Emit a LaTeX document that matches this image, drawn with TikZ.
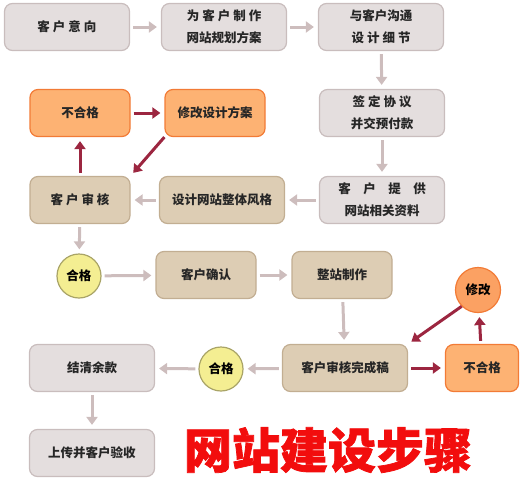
\documentclass[tikz,border=0pt]{standalone}
\usepackage{fontspec}
\setmainfont{Noto Sans CJK SC}
\newfontfamily\titlefont[BoldFeatures={FakeBold=1.5}]{Noto Sans CJK SC}
\usepackage{xcolor}
\usepackage{tikz}
\usetikzlibrary{arrows.meta, positioning}
\tikzset{>={Triangle[length=8pt,width=11pt]}}
\newcommand{\gap}{\hspace{3pt}}

\definecolor{greyfill}{HTML}{E4DEDE}
\definecolor{greyline}{HTML}{C9BDBD}
\definecolor{tanfill}{HTML}{DDCDB4}
\definecolor{tanline}{HTML}{C2AE92}
\definecolor{orangefill}{HTML}{FDB273}
\definecolor{orangeline}{HTML}{F27B36}
\definecolor{yellowfill}{HTML}{F4EE92}
\definecolor{yellowline}{HTML}{A9A467}
\definecolor{circfill}{HTML}{FBA163}
\definecolor{flowarrow}{HTML}{CDBDBD}
\definecolor{redarrow}{HTML}{9C2640}
\definecolor{titlered}{HTML}{F20D0D}

\begin{document}
\begin{tikzpicture}[x=1pt, y=-1pt, font=\bfseries\fontsize{12.5}{22}\selectfont]
    % Define node styles
    \tikzstyle{box} = [rectangle, rounded corners=8pt, line width=1.2pt, minimum width=125pt, minimum height=47pt, align=center, text=black!85]
    \tikzstyle{greybox} = [box, draw=greyline, fill=greyfill]
    \tikzstyle{tanbox} = [box, draw=tanline, fill=tanfill]
    \tikzstyle{orangebox} = [box, draw=orangeline, fill=orangefill, minimum width=100pt]
    \tikzstyle{okcirc} = [circle, line width=1.2pt, draw=yellowline, fill=yellowfill, minimum size=44pt, inner sep=0pt]
    \tikzstyle{fixcirc} = [circle, line width=1.2pt, draw=orangeline, fill=circfill, minimum size=45pt, inner sep=0pt]
    \tikzstyle{flow} = [->, line width=3pt, draw=flowarrow, color=flowarrow, shorten <=3pt, shorten >=4pt]
    \tikzstyle{back} = [->, line width=3pt, draw=redarrow, color=redarrow, shorten <=3pt, shorten >=4pt]

    \useasboundingbox (0,0) rectangle (523,480);

    % First row
    \node[greybox] (intent) at (67,27) {客\gap 户\gap 意\gap 向};
    \node[greybox] (plan) at (224,27) {为\gap 客\gap 户\gap 制\gap 作\\网站规划方案};
    \node[greybox] (talk) at (381,27) {与客户沟通\\设\gap 计\gap 细\gap 节};

    % Second row
    \node[orangebox] (fail1) at (80,113) {不合格};
    \node[orangebox] (redo1) at (215,113) {修改设计方案};
    \node[greybox] (deal) at (382,113) {签\gap 定\gap 协\gap 议\\并交预付款};

    % Third row
    \node[tanbox, minimum width=100pt] (check1) at (80,200) {客\gap 户\gap 审\gap 核};
    \node[tanbox] (style) at (222,200) {设计网站整体风格};
    \node[greybox] (data) at (382,200) {客\quad 户\quad 提\quad 供\\网站相关资料};

    % Fourth row
    \node[okcirc] (pass1) at (79,276) {合格};
    \node[tanbox, minimum width=100pt] (confirm) at (206,275) {客户确认};
    \node[tanbox, minimum width=100pt] (build) at (342,275) {整站制作};
    \node[fixcirc] (redo2) at (478,290) {修改};

    % Fifth row
    \node[greybox] (settle) at (92,368) {结清余款};
    \node[okcirc] (pass2) at (221,369) {合格};
    \node[tanbox] (check2) at (345,368) {客户审核完成稿};
    \node[orangebox, minimum width=73pt] (fail2) at (482,368) {不合格};

    % Last row
    \node[greybox] (accept) at (92,453) {上传并客户验收};
    \node[text=titlered, font=\titlefont\bfseries\fontsize{48}{52}\selectfont] (title) at (328,450) {网站建设步骤};

    % Main flow
    \draw[flow] (intent) -- (plan);
    \draw[flow] (plan) -- (talk);
    \draw[flow] (talk) -- (deal);
    \draw[flow] (deal) -- (data);
    \draw[flow] (data) -- (style);
    \draw[flow] (style) -- (check1);
    \draw[flow] (check1) -- (pass1);
    \draw[flow] (pass1) -- (confirm);
    \draw[flow] (confirm) -- (build);
    \draw[flow] (build) -- (check2);
    \draw[flow] (check2) -- (pass2);
    \draw[flow] (pass2) -- (settle);
    \draw[flow] (settle) -- (accept);

    % Revision loops
    \draw[back] (check1) -- (fail1);
    \draw[back] (fail1) -- (redo1);
    \draw[back, shorten <=0pt] (redo1.south west) -- (check1.north east);
    \draw[back] (check2) -- (fail2);
    \draw[back] (fail2) -- (redo2);
    \draw[back, shorten <=0pt] (redo2.south west) -- (check2.north east);
\end{tikzpicture}
\end{document}
